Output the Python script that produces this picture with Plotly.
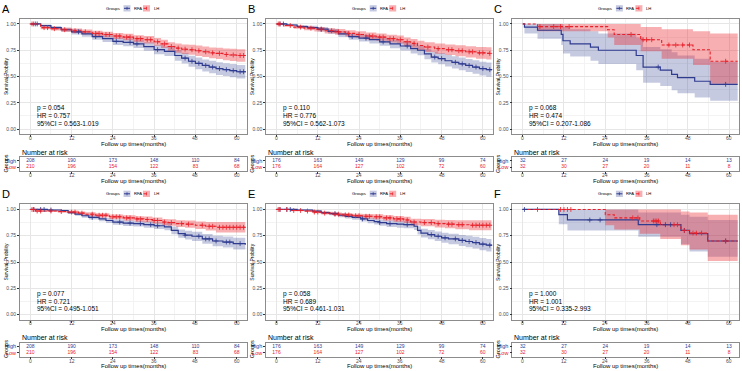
import numpy as np
import plotly.graph_objects as go

W, H = 742, 371
BLUE = "#2E3B8F"
RED = "#E8202A"
BLUE_FILL = "rgba(46,59,143,0.27)"
RED_FILL = "rgba(232,32,42,0.36)"
FONT = "Liberation Sans, Arial, sans-serif"

# ---------------- data ----------------
risk_times = [0, 12, 24, 36, 48, 60]
group_names = ["RFA", "LH"]

# Panel A
A_blue_t = [0, 3, 6, 9, 12, 15, 18, 21, 24, 27, 30, 33, 36, 39, 42, 44, 46, 48, 50, 52, 54, 56, 58, 60, 62.5]
A_blue_s = [1.0, 0.985, 0.965, 0.945, 0.925, 0.905, 0.88, 0.86, 0.835, 0.825, 0.81, 0.785, 0.755, 0.74, 0.70, 0.675, 0.645, 0.625, 0.605, 0.59, 0.575, 0.565, 0.555, 0.545, 0.54]
A_blue_lo = [1.0, 0.975, 0.95, 0.925, 0.90, 0.878, 0.85, 0.828, 0.80, 0.788, 0.771, 0.744, 0.711, 0.694, 0.651, 0.624, 0.592, 0.57, 0.548, 0.531, 0.515, 0.504, 0.492, 0.481, 0.475]
A_blue_hi = [1.0, 0.995, 0.98, 0.965, 0.95, 0.932, 0.91, 0.892, 0.87, 0.862, 0.849, 0.826, 0.799, 0.786, 0.749, 0.726, 0.698, 0.68, 0.662, 0.649, 0.635, 0.626, 0.618, 0.609, 0.605]
A_red_t = [0, 3, 6, 9, 12, 15, 18, 21, 24, 27, 30, 33, 36, 38, 40, 42, 44, 46, 48, 50, 52, 54, 56, 58, 60, 62.5]
A_red_s = [1.0, 0.965, 0.955, 0.945, 0.935, 0.925, 0.91, 0.90, 0.885, 0.875, 0.86, 0.85, 0.83, 0.81, 0.785, 0.77, 0.76, 0.755, 0.745, 0.735, 0.725, 0.72, 0.71, 0.705, 0.70, 0.70]
A_red_lo = [1.0, 0.95, 0.938, 0.926, 0.914, 0.902, 0.885, 0.873, 0.856, 0.844, 0.827, 0.815, 0.793, 0.771, 0.744, 0.727, 0.715, 0.708, 0.696, 0.685, 0.673, 0.666, 0.654, 0.647, 0.64, 0.638]
A_red_hi = [1.0, 0.98, 0.972, 0.964, 0.956, 0.948, 0.935, 0.927, 0.914, 0.906, 0.893, 0.885, 0.867, 0.849, 0.826, 0.813, 0.805, 0.802, 0.794, 0.785, 0.777, 0.774, 0.766, 0.763, 0.76, 0.762]
A_blue_cens = [1, 2, 14, 19, 25, 29, 31, 37, 45, 47, 49, 51, 53, 55, 57, 59, 61, 62]
A_red_cens = [0.5, 1.5, 4, 5, 7, 10, 13, 16, 19, 20, 22, 23, 25, 26, 28, 29, 31, 32, 34, 35, 37, 39, 41, 43, 45, 47, 49, 51, 53, 55, 57, 59, 61, 62]
A_risk_high = [208, 190, 173, 148, 110, 84]
A_risk_low = [210, 196, 154, 122, 83, 68]
A_stats = ["p = 0.054", "HR = 0.757", "95%CI = 0.563-1.019"]

# Panel B
B_blue_t = [0, 3, 6, 9, 12, 15, 18, 21, 24, 27, 30, 33, 36, 39, 41, 43, 45, 47, 49, 51, 53, 55, 57, 59, 61, 62.5]
B_blue_s = [1.0, 0.99, 0.975, 0.965, 0.95, 0.93, 0.905, 0.88, 0.865, 0.85, 0.83, 0.81, 0.79, 0.765, 0.75, 0.715, 0.685, 0.67, 0.65, 0.635, 0.62, 0.605, 0.59, 0.575, 0.565, 0.56]
B_blue_lo = [1.0, 0.98, 0.961, 0.948, 0.929, 0.906, 0.877, 0.849, 0.832, 0.815, 0.793, 0.77, 0.748, 0.72, 0.703, 0.665, 0.633, 0.616, 0.594, 0.577, 0.56, 0.543, 0.526, 0.509, 0.497, 0.49]
B_blue_hi = [1.0, 1.0, 0.989, 0.982, 0.971, 0.954, 0.933, 0.911, 0.898, 0.885, 0.867, 0.85, 0.832, 0.81, 0.797, 0.765, 0.737, 0.724, 0.706, 0.693, 0.68, 0.667, 0.654, 0.641, 0.633, 0.63]
B_red_t = [0, 2, 5, 8, 11, 14, 17, 20, 23, 26, 29, 32, 35, 37, 39, 41, 43, 46, 49, 52, 55, 58, 61, 62.5]
B_red_s = [1.0, 0.985, 0.97, 0.96, 0.95, 0.935, 0.925, 0.91, 0.9, 0.885, 0.875, 0.86, 0.85, 0.83, 0.815, 0.795, 0.78, 0.765, 0.755, 0.745, 0.735, 0.725, 0.72, 0.715]
B_red_lo = [1.0, 0.973, 0.954, 0.941, 0.928, 0.91, 0.898, 0.881, 0.869, 0.852, 0.84, 0.823, 0.811, 0.79, 0.773, 0.751, 0.734, 0.717, 0.705, 0.693, 0.681, 0.669, 0.662, 0.655]
B_red_hi = [1.0, 0.997, 0.986, 0.979, 0.972, 0.96, 0.952, 0.939, 0.931, 0.918, 0.91, 0.897, 0.889, 0.87, 0.857, 0.839, 0.826, 0.813, 0.805, 0.797, 0.789, 0.781, 0.778, 0.775]
B_blue_cens = [1, 2, 13, 22, 26, 31, 38, 46, 48, 52, 54, 56, 58, 60, 62]
B_red_cens = [0.5, 1, 4, 7, 10, 13, 16, 18, 21, 24, 27, 28, 30, 31, 33, 34, 36, 38, 40, 44, 47, 50, 51, 53, 54, 56, 57, 59, 60, 62]
B_risk_high = [176, 163, 149, 129, 99, 74]
B_risk_low = [176, 164, 127, 102, 72, 60]
B_stats = ["p = 0.110", "HR = 0.776", "95%CI = 0.562-1.073"]

# Panel C
C_blue_t = [0, 0.5, 4.3, 11.2, 11.7, 13.8, 19.7, 22, 33, 35, 40, 43.3, 45, 50, 54.5, 62.5]
C_blue_s = [1.0, 0.97, 0.94, 0.90, 0.84, 0.81, 0.78, 0.75, 0.70, 0.59, 0.56, 0.52, 0.49, 0.455, 0.425, 0.425]
C_blue_lo = [1.0, 0.91, 0.86, 0.80, 0.72, 0.69, 0.65, 0.62, 0.56, 0.44, 0.41, 0.37, 0.34, 0.30, 0.27, 0.27]
C_blue_hi = [1.0, 1.0, 1.0, 1.0, 0.97, 0.95, 0.93, 0.91, 0.87, 0.78, 0.76, 0.73, 0.70, 0.67, 0.64, 0.64]
C_red_t = [0, 4.3, 24.7, 26.6, 34.3, 40.4, 49.5, 54.5, 62.5]
C_red_s = [1.0, 0.975, 0.945, 0.90, 0.85, 0.80, 0.755, 0.645, 0.645]
C_red_lo = [1.0, 0.93, 0.87, 0.80, 0.74, 0.67, 0.61, 0.43, 0.43]
C_red_hi = [1.0, 1.0, 1.0, 1.0, 0.97, 0.95, 0.93, 0.91, 0.91]
C_blue_cens = [39.4, 59]
C_red_cens = [5, 9, 11, 13.5, 31.5, 35, 36, 37.5, 42.5, 44.5, 46.5, 48.5, 59]
C_risk_high = [32, 27, 24, 19, 14, 13]
C_risk_low = [32, 30, 27, 20, 11, 8]
C_stats = ["p = 0.068", "HR = 0.474", "95%CI = 0.207-1.086"]

# Panel D
D_blue_t = [0, 5, 9, 11, 13, 15, 17, 20, 22, 24, 27, 30, 33, 36, 39, 41, 43, 45, 47, 50, 53, 56, 59, 62.5]
D_blue_s = [1.0, 0.995, 0.99, 0.97, 0.955, 0.94, 0.925, 0.91, 0.895, 0.88, 0.87, 0.865, 0.855, 0.845, 0.835, 0.80, 0.77, 0.755, 0.745, 0.72, 0.70, 0.69, 0.675, 0.665]
D_blue_lo = [1.0, 0.99, 0.983, 0.958, 0.94, 0.922, 0.905, 0.888, 0.871, 0.854, 0.843, 0.837, 0.825, 0.813, 0.801, 0.763, 0.73, 0.713, 0.701, 0.673, 0.65, 0.638, 0.62, 0.607]
D_blue_hi = [1.0, 1.0, 0.997, 0.982, 0.97, 0.958, 0.945, 0.932, 0.919, 0.906, 0.897, 0.893, 0.885, 0.877, 0.869, 0.837, 0.81, 0.797, 0.789, 0.767, 0.75, 0.742, 0.73, 0.723]
D_red_t = [0, 1.5, 8, 11, 14, 16, 19, 23, 27, 30.6, 33, 35.5, 38.4, 40, 42.4, 45, 48, 51, 54, 62.5]
D_red_s = [1.0, 0.985, 0.98, 0.975, 0.965, 0.955, 0.945, 0.93, 0.92, 0.91, 0.905, 0.895, 0.88, 0.875, 0.865, 0.86, 0.85, 0.84, 0.83, 0.83]
D_red_lo = [1.0, 0.975, 0.968, 0.961, 0.949, 0.937, 0.925, 0.908, 0.896, 0.884, 0.878, 0.867, 0.85, 0.844, 0.832, 0.826, 0.814, 0.80, 0.78, 0.775]
D_red_hi = [1.0, 0.995, 0.992, 0.989, 0.981, 0.973, 0.965, 0.952, 0.944, 0.936, 0.932, 0.923, 0.91, 0.906, 0.898, 0.894, 0.886, 0.88, 0.88, 0.885]
D_blue_cens = [1, 3, 4, 6, 18, 26, 29, 32, 35, 37, 45, 49, 51, 52, 54, 57, 58, 61]
D_red_cens = [0.5, 1, 2, 3, 6, 9, 12, 13, 15, 18, 20, 21, 22, 24, 25, 26, 28, 29, 31, 32, 34, 36, 37, 39, 41, 44, 46, 50, 52, 53, 55, 56, 57, 58, 59, 60, 61, 62]
D_risk_high = [208, 190, 173, 148, 110, 84]
D_risk_low = [210, 196, 154, 122, 83, 68]
D_stats = ["p = 0.077", "HR = 0.721", "95%CI = 0.495-1.051"]

# Panel E
E_blue_t = [0, 6, 10.5, 13, 15.4, 18, 20, 22, 24.5, 26.5, 28.4, 30, 32, 35, 37, 40, 41, 42, 44, 46, 48, 50, 53, 55, 57, 59, 61, 62.5]
E_blue_s = [1.0, 0.995, 0.985, 0.97, 0.96, 0.945, 0.935, 0.925, 0.91, 0.895, 0.885, 0.875, 0.865, 0.86, 0.855, 0.84, 0.80, 0.775, 0.76, 0.745, 0.73, 0.72, 0.705, 0.695, 0.685, 0.67, 0.66, 0.655]
E_blue_lo = [1.0, 0.99, 0.976, 0.957, 0.944, 0.926, 0.914, 0.902, 0.885, 0.868, 0.856, 0.845, 0.833, 0.827, 0.821, 0.804, 0.761, 0.733, 0.716, 0.699, 0.682, 0.67, 0.653, 0.641, 0.629, 0.612, 0.60, 0.593]
E_blue_hi = [1.0, 1.0, 0.994, 0.983, 0.976, 0.964, 0.956, 0.948, 0.935, 0.922, 0.914, 0.905, 0.897, 0.893, 0.889, 0.876, 0.839, 0.817, 0.804, 0.791, 0.778, 0.77, 0.757, 0.749, 0.741, 0.728, 0.72, 0.717]
E_red_t = [0, 4, 8, 10.5, 13, 16.4, 19, 22, 25, 28, 31, 34, 37, 39, 42, 46, 49, 52, 56, 62.5]
E_red_s = [1.0, 0.99, 0.985, 0.975, 0.965, 0.955, 0.948, 0.94, 0.935, 0.93, 0.92, 0.91, 0.90, 0.88, 0.875, 0.865, 0.86, 0.855, 0.85, 0.85]
E_red_lo = [1.0, 0.982, 0.975, 0.963, 0.951, 0.939, 0.93, 0.92, 0.913, 0.906, 0.894, 0.882, 0.87, 0.848, 0.841, 0.828, 0.82, 0.812, 0.802, 0.795]
E_red_hi = [1.0, 0.998, 0.995, 0.987, 0.979, 0.971, 0.966, 0.96, 0.957, 0.954, 0.946, 0.938, 0.93, 0.912, 0.909, 0.902, 0.90, 0.898, 0.898, 0.905]
E_blue_cens = [1, 3, 4, 17, 25, 30, 33, 38, 45, 47, 49, 52, 54, 56, 58, 60, 62]
E_red_cens = [0.5, 1, 3, 5, 7, 9, 11, 12, 14, 17, 18, 20, 21, 23, 24, 26, 27, 29, 30, 32, 33, 35, 36, 38, 40, 43, 45, 47, 50, 51, 53, 54, 57, 58, 59, 60, 61, 62]
E_risk_high = [176, 163, 149, 129, 99, 74]
E_risk_low = [176, 164, 127, 102, 72, 60]
E_stats = ["p = 0.058", "HR = 0.689", "95%CI = 0.461-1.031"]

# Panel F
F_blue_t = [0, 10.5, 13, 33.6, 46, 48.5, 53.8, 62.5]
F_blue_s = [1.0, 0.95, 0.90, 0.855, 0.80, 0.77, 0.70, 0.70]
F_blue_lo = [1.0, 0.86, 0.80, 0.74, 0.67, 0.60, 0.55, 0.55]
F_blue_hi = [1.0, 1.0, 1.0, 0.97, 0.95, 0.93, 0.90, 0.90]
F_red_t = [0, 24, 26.6, 34, 40, 46, 48.5, 53.8, 62.5]
F_red_s = [1.0, 0.95, 0.92, 0.89, 0.855, 0.80, 0.775, 0.70, 0.70]
F_red_lo = [1.0, 0.85, 0.81, 0.77, 0.72, 0.66, 0.62, 0.51, 0.51]
F_red_hi = [1.0, 1.0, 1.0, 1.0, 1.0, 0.98, 0.97, 0.95, 0.95]
F_blue_cens = [0.5, 19.5, 22.5, 39, 41.5, 43, 47, 59]
F_red_cens = [4.3, 11, 12, 13, 14, 32, 33.5, 38, 38.5, 39, 39.5, 44, 45, 47, 49.5, 50.5, 52, 59]
F_risk_high = [32, 27, 24, 19, 14, 13]
F_risk_low = [32, 30, 27, 20, 11, 8]
F_stats = ["p = 1.000", "HR = 1.001", "95%CI = 0.335-2.993"]

panels = [
    ("A", A_blue_t, A_blue_s, A_blue_lo, A_blue_hi, A_red_t, A_red_s, A_red_lo, A_red_hi, A_blue_cens, A_red_cens, A_risk_high, A_risk_low, A_stats),
    ("B", B_blue_t, B_blue_s, B_blue_lo, B_blue_hi, B_red_t, B_red_s, B_red_lo, B_red_hi, B_blue_cens, B_red_cens, B_risk_high, B_risk_low, B_stats),
    ("C", C_blue_t, C_blue_s, C_blue_lo, C_blue_hi, C_red_t, C_red_s, C_red_lo, C_red_hi, C_blue_cens, C_red_cens, C_risk_high, C_risk_low, C_stats),
    ("D", D_blue_t, D_blue_s, D_blue_lo, D_blue_hi, D_red_t, D_red_s, D_red_lo, D_red_hi, D_blue_cens, D_red_cens, D_risk_high, D_risk_low, D_stats),
    ("E", E_blue_t, E_blue_s, E_blue_lo, E_blue_hi, E_red_t, E_red_s, E_red_lo, E_red_hi, E_blue_cens, E_red_cens, E_risk_high, E_risk_low, E_stats),
    ("F", F_blue_t, F_blue_s, F_blue_lo, F_blue_hi, F_red_t, F_red_s, F_red_lo, F_red_hi, F_blue_cens, F_red_cens, F_risk_high, F_risk_low, F_stats),
]

# ---------------- helpers ----------------
def px(x):
    return x / W

def py(y):
    return 1 - y / H

def step_at(t, s, c):
    idx = np.searchsorted(np.asarray(t, float), np.asarray(c, float), side="right") - 1
    return np.asarray(s)[np.clip(idx, 0, len(s) - 1)]

def sfx(i):
    return "" if i == 1 else str(i)

COLX = [0, 246.2, 492.4]
ROWY = [0, 185.5]

fig = go.Figure()
layout = dict(
    width=W, height=H, margin=dict(l=0, r=0, t=0, b=0),
    plot_bgcolor="white", paper_bgcolor="white", showlegend=False,
    font=dict(family=FONT, color="black"),
)
annotations = []
shapes = []

TICKFONT = dict(size=5, color="#4D4D4D", family=FONT)


def ann(x, y, text, size, xanchor="center", angle=0, color="black", xref="paper"):
    annotations.append(dict(x=(px(x) if xref == "paper" else x), y=py(y), xref=xref, yref="paper",
                            text=text, showarrow=False, xanchor=xanchor, yanchor="middle",
                            textangle=angle, font=dict(size=size, color=color, family=FONT)))


for k, (letter, bt, bs, blo, bhi, rt, rs, rlo, rhi, bc, rc, rh, rl, stats) in enumerate(panels):
    c, r = k % 3, k // 3
    cx, ry = COLX[c], ROWY[r]
    im, it = 2 * k + 1, 2 * k + 2
    xm, ym, xt, yt = "x" + sfx(im), "y" + sfx(im), "x" + sfx(it), "y" + sfx(it)

    common_x = dict(
        range=[-3, 63], tick0=0, dtick=12, ticks="outside", ticklen=2, tickwidth=0.5,
        tickcolor="#333333", showticklabels=False, showline=True, mirror=True,
        linecolor="#8C8C8C", linewidth=0.8, zeroline=False, fixedrange=True,
    )
    layout["xaxis" + sfx(im)] = dict(
        common_x, domain=[px(cx + 20), px(cx + 247)], anchor=ym,
        showgrid=True, gridcolor="#E6E6E6", gridwidth=0.6,
        minor=dict(dtick=6, tick0=0, showgrid=True, gridcolor="#F3F3F3", gridwidth=0.4),
    )
    layout["yaxis" + sfx(im)] = dict(
        range=[-0.05, 1.05], tick0=0, dtick=0.25, tickformat=".2f",
        ticks="outside", ticklen=2, tickwidth=0.5, tickcolor="#333333", tickfont=TICKFONT,
        showline=True, mirror=True, linecolor="#8C8C8C", linewidth=0.8, zeroline=False,
        showgrid=True, gridcolor="#E6E6E6", gridwidth=0.6,
        minor=dict(dtick=0.125, tick0=0, showgrid=True, gridcolor="#F3F3F3", gridwidth=0.4),
        domain=[py(ry + 134.3), py(ry + 18.7)], anchor=xm, fixedrange=True,
    )
    layout["xaxis" + sfx(it)] = dict(
        common_x, domain=[px(cx + 20), px(cx + 247)], anchor=yt, showgrid=False,
    )
    layout["yaxis" + sfx(it)] = dict(
        range=[0.4, 2.6], tickmode="array", tickvals=[1, 2],
        ticktext=[f"<span style='color:{RED}'>Low</span>", f"<span style='color:{BLUE}'>High</span>"],
        ticks="outside", ticklen=2, tickwidth=0.5, tickcolor="#333333",
        tickfont=dict(size=5.5, family=FONT), showline=True, mirror=True,
        linecolor="#8C8C8C", linewidth=0.8, zeroline=False, showgrid=False,
        domain=[py(ry + 171), py(ry + 157)], anchor=xt, fixedrange=True,
    )

    # confidence bands
    for t, lo, hi, fc in ((bt, blo, bhi, BLUE_FILL), (rt, rlo, rhi, RED_FILL)):
        fig.add_trace(go.Scatter(x=t, y=lo, mode="lines", line=dict(width=0, shape="hv"),
                                 xaxis=xm, yaxis=ym, hoverinfo="skip"))
        fig.add_trace(go.Scatter(x=t, y=hi, mode="lines", line=dict(width=0, shape="hv"),
                                 fill="tonexty", fillcolor=fc, xaxis=xm, yaxis=ym, hoverinfo="skip"))
    # survival curves
    fig.add_trace(go.Scatter(x=bt, y=bs, mode="lines", line=dict(color=BLUE, width=1.2, shape="hv"),
                             xaxis=xm, yaxis=ym, name=group_names[0]))
    fig.add_trace(go.Scatter(x=rt, y=rs, mode="lines",
                             line=dict(color=RED, width=1.1, shape="hv", dash="3px,2px"),
                             xaxis=xm, yaxis=ym, name=group_names[1]))
    # censor marks
    fig.add_trace(go.Scatter(x=bc, y=step_at(bt, bs, bc), mode="markers",
                             marker=dict(symbol="cross-thin", size=3.5, line=dict(color=BLUE, width=0.8)),
                             xaxis=xm, yaxis=ym))
    fig.add_trace(go.Scatter(x=rc, y=step_at(rt, rs, rc), mode="markers",
                             marker=dict(symbol="cross-thin", size=3.5, line=dict(color=RED, width=0.8)),
                             xaxis=xm, yaxis=ym))
    # risk table
    fig.add_trace(go.Scatter(x=risk_times, y=[2] * 6, mode="text", text=[str(v) for v in rh],
                             textfont=dict(size=5, color=BLUE, family=FONT), xaxis=xt, yaxis=yt))
    fig.add_trace(go.Scatter(x=risk_times, y=[1] * 6, mode="text", text=[str(v) for v in rl],
                             textfont=dict(size=5, color=RED, family=FONT), xaxis=xt, yaxis=yt))

    # x tick labels (placed at the data positions of the ticks)
    for tv in risk_times:
        ann(tv, ry + 137.6, str(tv), 5, color="#4D4D4D", xref=xm)
        ann(tv, ry + 175.0, str(tv), 5, color="#4D4D4D", xref=xt)

    # --- texts ---
    ann(cx + 5.5, ry + 8.5, letter, 11)
    ann(cx + 113, ry + 8.3, "Groups", 4.2)
    ann(cx + 132, ry + 8.3, group_names[0], 4.2, "left")
    ann(cx + 152, ry + 8.3, group_names[1], 4.2, "left")
    ann(cx + 5.5, ry + 76.5, "Survival Probility", 5, angle=-90)
    for j, s in enumerate(stats):
        ann(cx + 34.5, ry + 108 + 7.6 * j, s, 6.5, "left")
    ann(cx + 133.5, ry + 143.6, "Follow up times(months)", 6)
    ann(cx + 20, ry + 152.3, "Number at risk", 7, "left")
    ann(cx + 5.5, ry + 164, "Groups", 5.5, angle=-90)
    ann(cx + 133.5, ry + 180.6, "Follow up times(months)", 6)

    # legend keys
    for x0, fc, lc, dash in ((cx + 123.5, BLUE_FILL, BLUE, "solid"), (cx + 143, RED_FILL, RED, "dot")):
        shapes.append(dict(type="rect", xref="paper", yref="paper", x0=px(x0), x1=px(x0 + 7),
                           y0=py(ry + 11.5), y1=py(ry + 5.2), fillcolor=fc, line=dict(width=0)))
        shapes.append(dict(type="line", xref="paper", yref="paper", x0=px(x0 + 0.5), x1=px(x0 + 6.5),
                           y0=py(ry + 8.3), y1=py(ry + 8.3), line=dict(color=lc, width=1, dash=dash)))
        shapes.append(dict(type="line", xref="paper", yref="paper", x0=px(x0 + 3.5), x1=px(x0 + 3.5),
                           y0=py(ry + 6.8), y1=py(ry + 9.8), line=dict(color=lc, width=0.8)))

layout["annotations"] = annotations
layout["shapes"] = shapes
fig.update_layout(**layout)
fig.write_html(
    "out.html",
    config={"displayModeBar": False},
    post_script="document.body.style.margin='0';document.body.style.padding='0';"
                "document.body.style.overflow='hidden';",
)
